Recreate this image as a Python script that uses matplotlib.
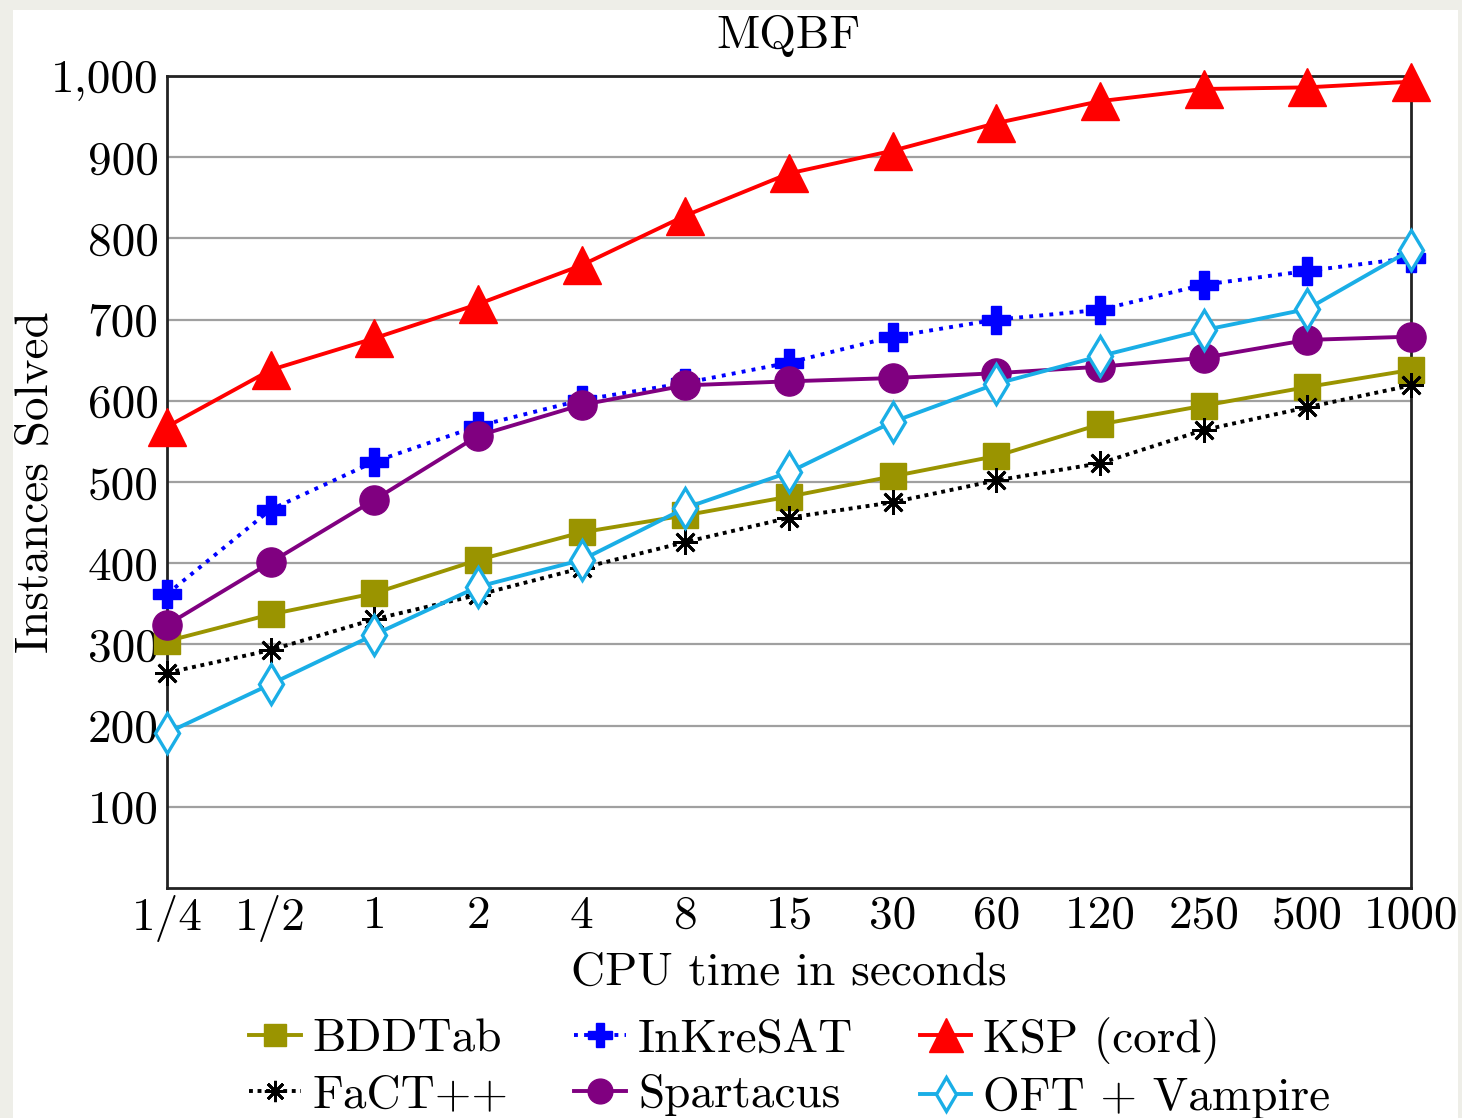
import matplotlib
matplotlib.use("Agg")
import matplotlib.pyplot as plt
from matplotlib.patches import Rectangle

plt.rcParams['font.family'] = ['cmr10', 'DejaVu Serif']
plt.rcParams['mathtext.fontset'] = 'cm'
plt.rcParams['axes.unicode_minus'] = False

categories = ["1/4", "1/2", "1", "2", "4", "8", "15", "30", "60", "120", "250", "500", "1000"]
bddtab = [304, 337, 363, 404, 438, 459, 482, 507, 532, 571, 594, 617, 638]
inkresat = [362, 466, 525, 569, 601, 622, 647, 679, 700, 712, 743, 760, 776]
ksp = [568, 638, 677, 719, 767, 828, 880, 908, 942, 969, 984, 986, 993]
factpp = [265, 293, 331, 361, 394, 426, 456, 475, 502, 523, 564, 592, 619]
spartacus = [324, 401, 478, 557, 595, 619, 624, 628, 634, 642, 653, 675, 679]
oft_vampire = [191, 251, 312, 371, 404, 468, 512, 574, 621, 655, 687, 713, 786]
yticks = [100, 200, 300, 400, 500, 600, 700, 800, 900, 1000]
ytick_labels = ["100", "200", "300", "400", "500", "600", "700", "800", "900", "1,000"]

W, H = 1462, 1118
fig = plt.figure(figsize=(W / 100, H / 100), dpi=100, facecolor="#eeeee8")
bg = Rectangle((13 / W, 0), (1458 - 13) / W, (H - 10) / H,
               transform=fig.transFigure, facecolor="white",
               edgecolor="none", zorder=-10)
fig.patches.append(bg)

ax = fig.add_axes([167 / W, 1 - 888 / H, (1411 - 167) / W, (888 - 76) / H])
ax.set_facecolor("white")
x = list(range(len(categories)))

lw = 2.8
h_bdd, = ax.plot(x, bddtab, color="#9a9400", lw=lw, marker="s", ms=19, label="BDDTab", clip_on=False, zorder=3)
h_ink, = ax.plot(x, inkresat, color="#0000ff", lw=lw, ls=(0, (1, 1.6)), marker="P", ms=20, label="InKreSAT", clip_on=False, zorder=3)
h_ksp, = ax.plot(x, ksp, color="#ff0000", lw=lw, marker="^", ms=28, label="KSP (cord)", clip_on=False, zorder=3)
h_fact, = ax.plot(x, factpp, color="black", lw=lw, ls=(0, (1, 1.2)), marker=(8, 2, 0), ms=18, mew=2, label="FaCT++", clip_on=False, zorder=3)
h_spa, = ax.plot(x, spartacus, color="#800080", lw=lw, marker="o", ms=21, label="Spartacus", clip_on=False, zorder=3)
h_oft, = ax.plot(x, oft_vampire, color="#1aaee6", lw=lw, marker="d", ms=20, mfc="white", mew=2.4, label="OFT + Vampire", clip_on=False, zorder=3)

ax.set_xlim(0, len(categories) - 1)
ax.set_ylim(0, 1000)
ax.set_xticks(x)
ax.set_xticklabels(categories)
ax.set_yticks(yticks)
ax.set_yticklabels(ytick_labels)
ax.tick_params(axis="x", length=0, pad=5, labelsize=34)
ax.tick_params(axis="y", length=0, pad=6, labelsize=34)
ax.grid(axis="y", color="#a0a0a0", lw=1.6, zorder=0)
for s in ax.spines.values():
    s.set_linewidth(2)
    s.set_color("#222222")

ax.set_title("MQBF", fontsize=34, pad=20)
ax.set_xlabel("CPU time in seconds", fontsize=34, labelpad=7)
ax.set_ylabel("Instances Solved", fontsize=34, labelpad=-4)

handles = [h_bdd, h_fact, h_ink, h_spa, h_ksp, h_oft]
fig.legend(handles=handles, labels=[h.get_label() for h in handles], ncol=3,
           loc="lower center", bbox_to_anchor=(0.54, -0.039), frameon=False,
           fontsize=34, handlelength=1.1, handletextpad=0.25, columnspacing=1.4,
           labelspacing=0.28, markerscale=0.85)

fig.savefig("out.png", dpi=100, facecolor=fig.get_facecolor())
